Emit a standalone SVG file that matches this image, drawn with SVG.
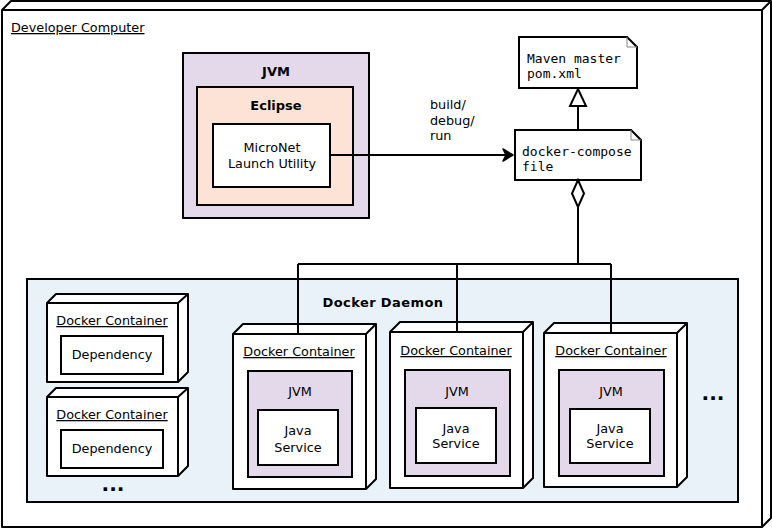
<svg xmlns="http://www.w3.org/2000/svg" width="772" height="529" viewBox="0 0 772 529">
<style>
text{font-family:"DejaVu Sans","Liberation Sans",sans-serif;font-size:12.8px;fill:#000}
.b{font-weight:bold;font-size:13px}
.m{font-family:"DejaVu Sans Mono","Liberation Mono",monospace;font-size:13px}
.c{text-anchor:middle}
.u{text-decoration:underline}
.box{stroke:#000;stroke-width:2}
.node3d{fill:#fff;stroke:#000;stroke-width:2;stroke-linejoin:round}
.ln{fill:none;stroke:#000;stroke-width:2}
.fold{fill:none;stroke:#888;stroke-width:1}
.dots{font-weight:bold;font-size:20px}
</style>
<rect width="772" height="529" fill="#fff"/>
<g id="developer-computer">
<path class="node3d" d="M2,10 L11,1 L771,1 L771,518 L762,527 L2,527 Z"/>
<path class="ln" d="M2,10 L762,10 L771,1 M762,10 L762,527"/>
<text x="11" y="32" class="u">Developer Computer</text>
</g>
<g id="jvm-host">
<rect x="183" y="53" width="186" height="165" class="box" fill="#e4d9ea"/>
<text x="276" y="76" class="b c">JVM</text>
</g>
<g id="eclipse">
<rect x="197" y="87" width="156" height="118" class="box" fill="#fde3d6"/>
<text x="276" y="110" class="b c">Eclipse</text>
</g>
<g id="micronet">
<rect x="213" y="124" width="117" height="63" class="box" fill="#fff"/>
<text x="272" y="152" class="c">MicroNet</text>
<text x="272" y="168" class="c">Launch Utility</text>
</g>
<g id="maven-pom">
<path class="box" fill="#fff" d="M519,37 L627,37 L637,47 L637,88 L519,88 Z"/>
<path class="fold" d="M627,37 L627,47 L637,47"/>
<text x="527" y="63" class="m">Maven master</text>
<text x="527" y="78" class="m">pom.xml</text>
</g>
<g id="docker-compose">
<path class="box" fill="#fff" d="M515,130 L631,130 L641,140 L641,180 L515,180 Z"/>
<path class="fold" d="M631,130 L631,140 L641,140"/>
<text x="522" y="156" class="m">docker-compose</text>
<text x="522" y="171" class="m">file</text>
</g>
<g id="docker-daemon">
<rect x="27" y="279" width="711" height="223" class="box" fill="#eaf2f9"/>
<text x="383" y="307" class="b c" letter-spacing="0.4">Docker Daemon</text>
</g>
<g id="container-dep-1">
<path class="node3d" d="M47,303 L56,294 L188,294 L188,372 L178,382 L47,382 Z"/>
<path class="ln" d="M47,303 L178,303 L188,294 M178,303 L178,382"/>
<text x="112" y="325" class="c u">Docker Container</text>
<rect x="61" y="336" width="102" height="38" class="box" fill="#fff"/>
<text x="112" y="359" class="c">Dependency</text>
</g>
<g id="container-dep-2">
<path class="node3d" d="M47,397 L56,388 L188,388 L188,466 L178,476 L47,476 Z"/>
<path class="ln" d="M47,397 L178,397 L188,388 M178,397 L178,476"/>
<text x="112" y="419" class="c u">Docker Container</text>
<rect x="61" y="430" width="102" height="38" class="box" fill="#fff"/>
<text x="112" y="453" class="c">Dependency</text>
<text x="113" y="491" class="dots c">...</text>
</g>
<g id="container-svc-1">
<path class="node3d" d="M233,334 L243,324 L376,324 L376,479 L366,489 L233,489 Z"/>
<path class="ln" d="M233,334 L366,334 L376,324 M366,334 L366,489"/>
<text x="299" y="356" class="c u">Docker Container</text>
<rect x="248" y="371" width="104" height="106" class="box" fill="#e4d9ea"/>
<text x="300" y="396" class="c">JVM</text>
<rect x="258" y="410" width="80" height="55" class="box" fill="#fff"/>
<text x="298" y="435" class="c">Java</text>
<text x="298" y="452" class="c">Service</text>
</g>
<g id="container-svc-2">
<path class="node3d" d="M390,332 L400,322 L533,322 L533,478 L523,488 L390,488 Z"/>
<path class="ln" d="M390,332 L523,332 L533,322 M523,332 L523,488"/>
<text x="456" y="355" class="c u">Docker Container</text>
<rect x="405" y="370" width="105" height="106" class="box" fill="#e4d9ea"/>
<text x="457" y="396" class="c">JVM</text>
<rect x="416" y="408" width="80" height="55" class="box" fill="#fff"/>
<text x="456" y="433" class="c">Java</text>
<text x="456" y="448" class="c">Service</text>
</g>
<g id="container-svc-3">
<path class="node3d" d="M544,333 L554,323 L687,323 L687,477 L677,487 L544,487 Z"/>
<path class="ln" d="M544,333 L677,333 L687,323 M677,333 L677,487"/>
<text x="611" y="355" class="c u">Docker Container</text>
<rect x="559" y="370" width="105" height="106" class="box" fill="#e4d9ea"/>
<text x="611" y="396" class="c">JVM</text>
<rect x="570" y="409" width="80" height="54" class="box" fill="#fff"/>
<text x="610" y="433" class="c">Java</text>
<text x="610" y="448" class="c">Service</text>
<text x="713" y="400" class="dots c">...</text>
</g>
<g id="connectors">
<path class="ln" d="M330,155 L507,155"/>
<path d="M513,155 L503,149 L506,155 L503,161 Z" fill="#000" stroke="#000" stroke-width="1.5" stroke-linejoin="round"/>
<text x="430" y="109">build/</text>
<text x="430" y="125">debug/</text>
<text x="430" y="140">run</text>
<path class="ln" d="M578,130 L578,106"/>
<path d="M578,89 L586,106 L570,106 Z" fill="#fff" stroke="#000" stroke-width="2" stroke-linejoin="miter"/>
<path d="M578,180 L584,193.5 L578,207 L572,193.5 Z" fill="#fff" stroke="#000" stroke-width="2"/>
<path class="ln" d="M578,207 L578,264 M298,264 L611,264 M298,264 L298,334 M457,264 L457,332 M611,264 L611,333"/>
</g>
</svg>
